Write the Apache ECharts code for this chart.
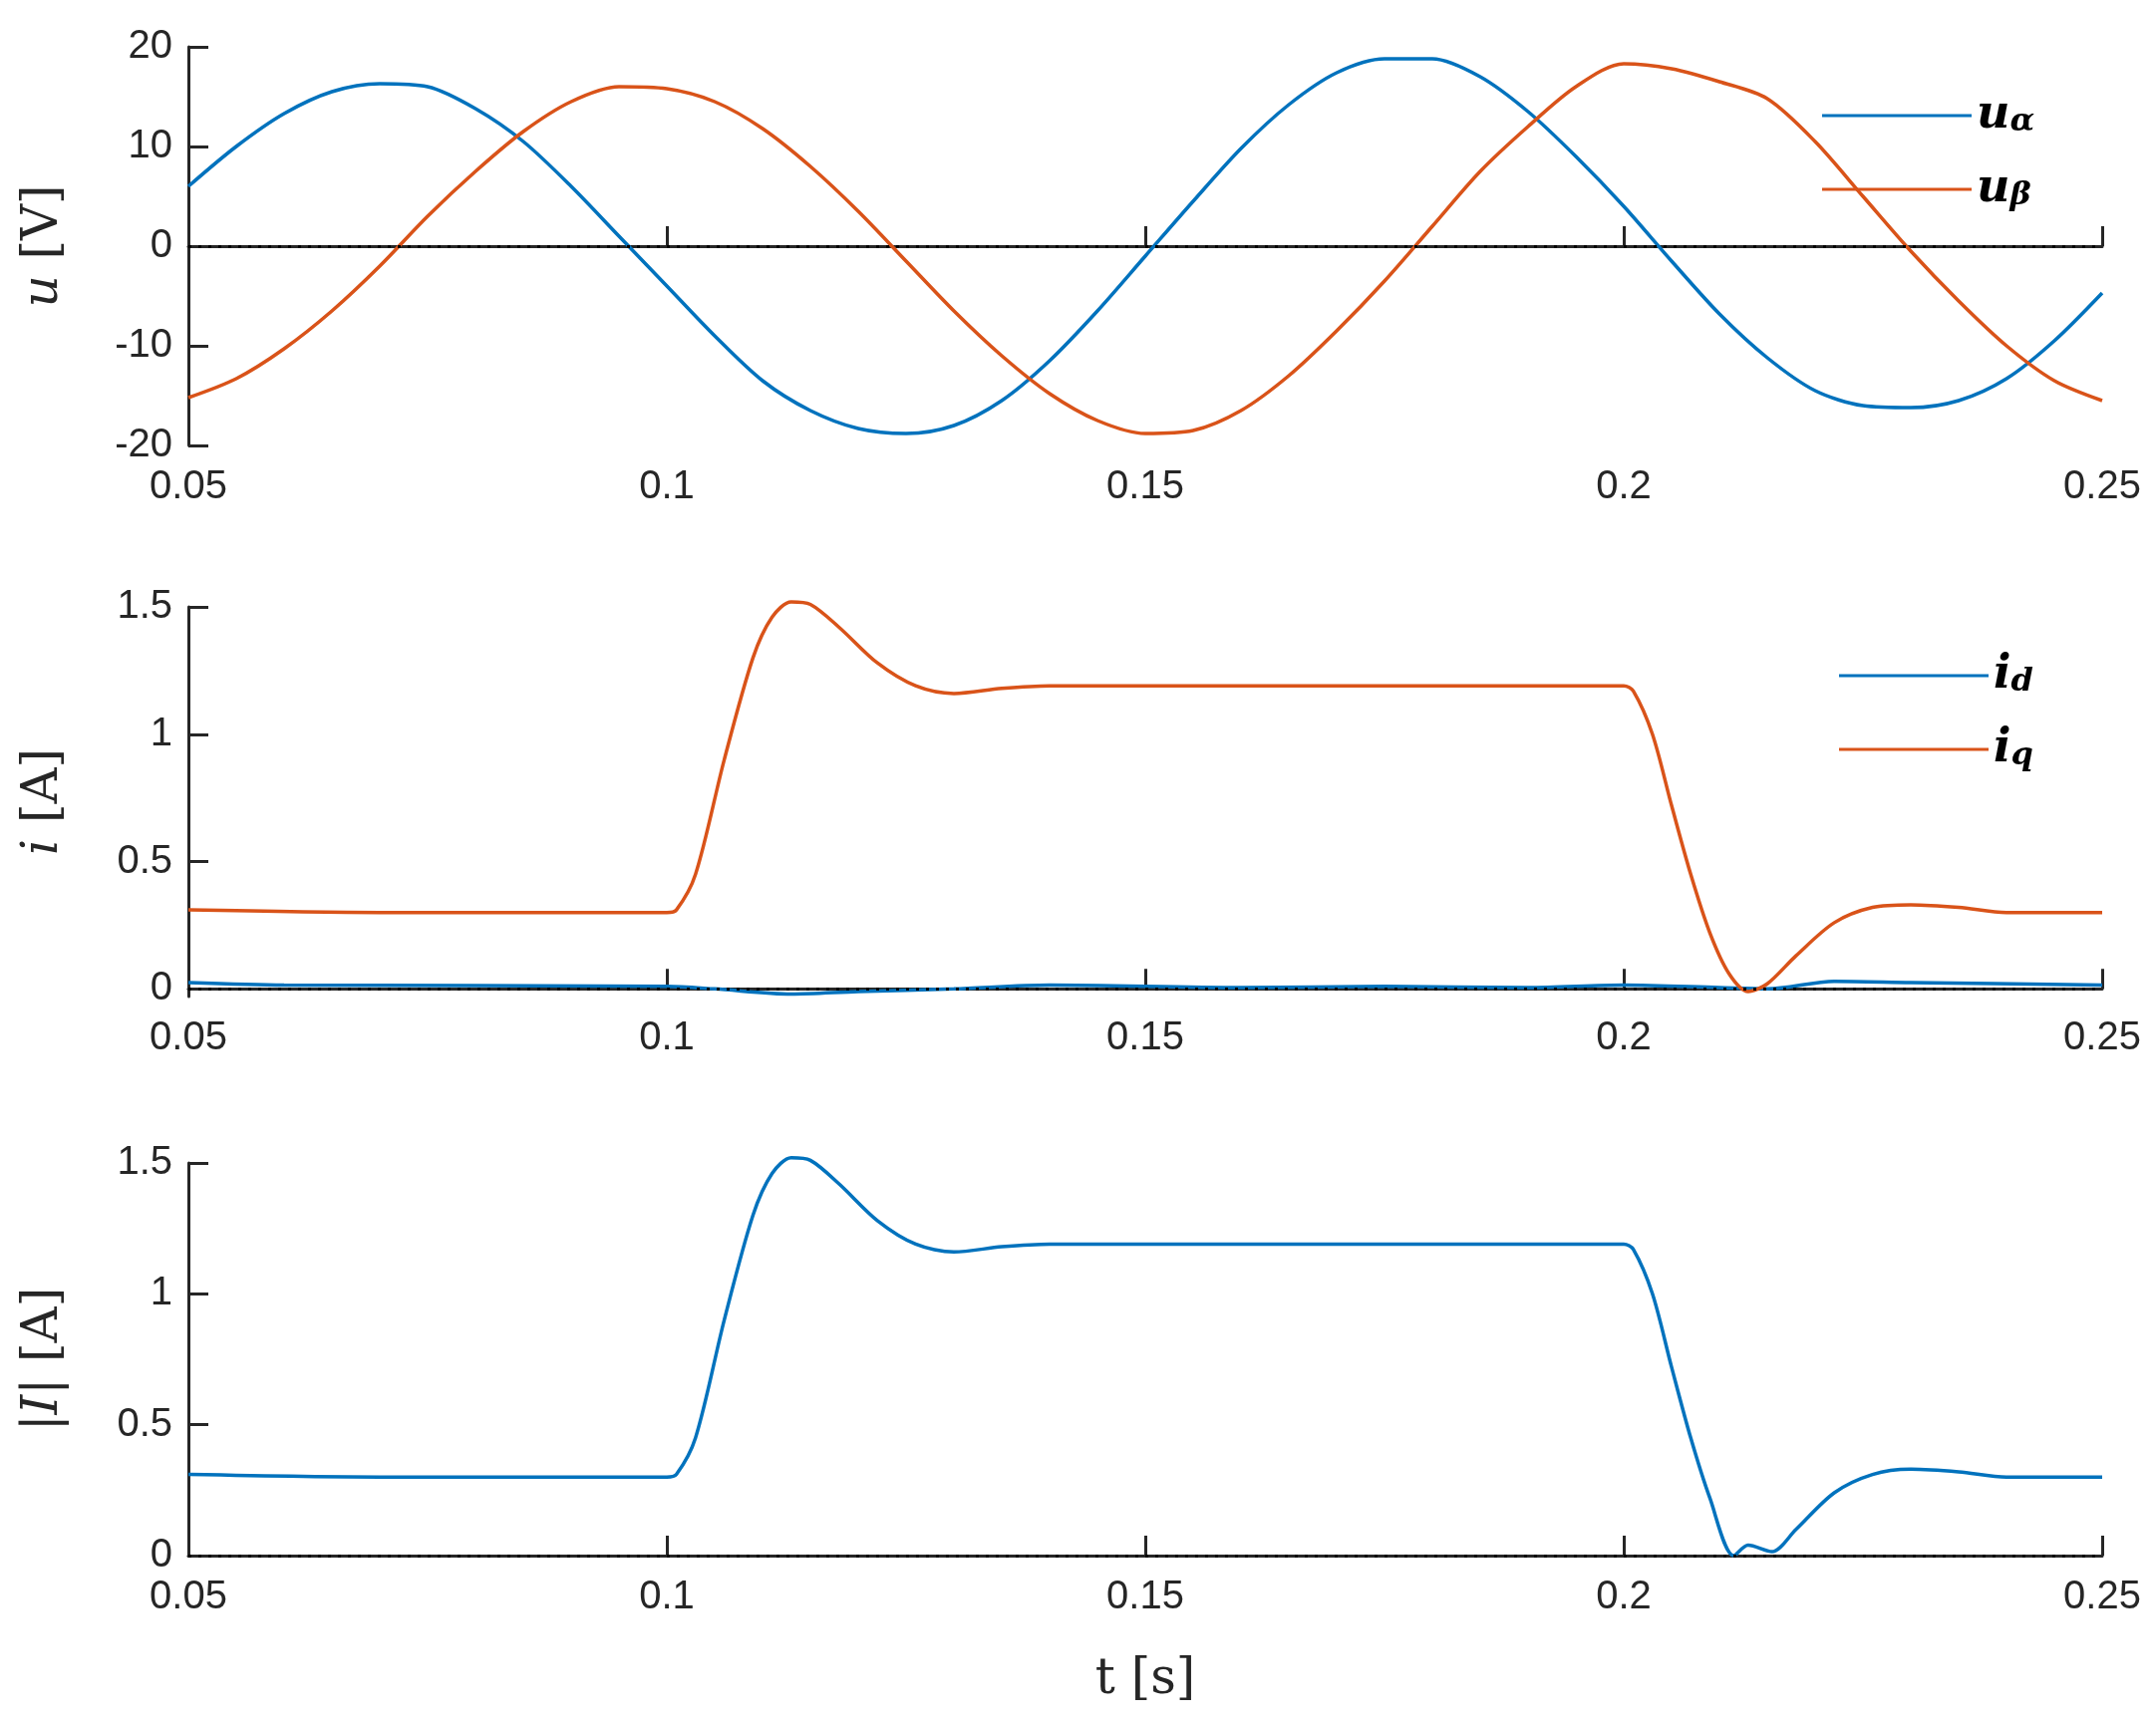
<!DOCTYPE html>
<html><head><meta charset="utf-8">
<script src="https://cdn.jsdelivr.net/npm/echarts@6/dist/echarts.min.js"></script>
<style>html,body{margin:0;background:#fff}#c{width:2163px;height:1732px}</style>
</head><body><div id="c"></div>
<script>
var uT = [0.05,0.055,0.06,0.065,0.07,0.075,0.08,0.085,0.09,0.095,0.1,0.105,0.11,0.115,0.12,0.125,0.13,0.135,0.14,0.145,0.15,0.155,0.16,0.165,0.17,0.175,0.18,0.185,0.19,0.195,0.2,0.205,0.21,0.215,0.22,0.225,0.23,0.235,0.24,0.245,0.25];
var uAlpha = [6,10,13.3,15.5,16.3,16,13.8,10.5,6,1,-4,-9,-13.5,-16.5,-18.3,-18.8,-18,-15.5,-11.5,-6.5,-1,4.5,9.8,14.2,17.4,18.8,18.8,17,13.5,9,4,-1.5,-6.8,-11.2,-14.5,-16,-16.2,-15.5,-13.3,-9.5,-4.7];
var uBeta = [-15.2,-13.3,-10.3,-6.5,-2,3,7.5,11.5,14.5,16,15.8,14.5,11.8,8,3.5,-1.5,-6.5,-11,-14.8,-17.5,-18.8,-18.5,-16.5,-13,-8.5,-3.5,2,7.5,12,16,18.3,17.8,16.5,14.8,10.5,5,-0.5,-5.5,-10,-13.5,-15.5];
var iqT = [0.05,0.07,0.1,0.101,0.103,0.106,0.109,0.111,0.113,0.115,0.118,0.122,0.126,0.13,0.135,0.14,0.2,0.201,0.203,0.205,0.207,0.209,0.211,0.213,0.215,0.218,0.222,0.226,0.23,0.235,0.24,0.25];
var iq = [0.31,0.30,0.30,0.31,0.45,0.9,1.3,1.46,1.52,1.51,1.42,1.28,1.19,1.16,1.18,1.19,1.19,1.17,1.0,0.72,0.45,0.22,0.06,-0.01,0.02,0.13,0.26,0.32,0.33,0.32,0.30,0.30];
var idT = [0.05,0.06,0.1,0.105,0.113,0.12,0.13,0.14,0.16,0.175,0.19,0.2,0.21,0.215,0.222,0.23,0.25];
var id = [0.025,0.015,0.01,0.0,-0.02,-0.01,0.0,0.015,0.005,0.01,0.005,0.015,0.005,0.0,0.03,0.025,0.015];
var magT = [0.05,0.07,0.1,0.101,0.103,0.106,0.109,0.111,0.113,0.115,0.118,0.122,0.126,0.13,0.135,0.14,0.2,0.201,0.203,0.205,0.207,0.209,0.2115,0.213,0.2155,0.218,0.222,0.226,0.23,0.235,0.24,0.25];
var mag = [0.31,0.30,0.30,0.31,0.45,0.9,1.3,1.46,1.52,1.51,1.42,1.28,1.19,1.16,1.18,1.19,1.19,1.17,1.0,0.72,0.45,0.22,0.0,0.04,0.015,0.1,0.24,0.31,0.33,0.32,0.30,0.30];
var xTicks = [0.05, 0.1, 0.15, 0.2, 0.25];
var uTicks = [-20, -10, 0, 10, 20];
var iTicks = [0, 0.5, 1, 1.5];

function pairs(t, v) { return t.map(function (x, i) { return [x, v[i]]; }); }
var blue = '#0072BD', orange = '#D95319';
var tops = [47, 609, 1167], heights = [400, 391, 394];
var ser = '"DejaVu Serif", "Liberation Serif", serif';
var tick = { fontFamily: 'Helvetica, "Liberation Sans", Arial', fontSize: 40, color: '#262626' };
function fmt(v) { return Math.abs(v) < 1e-9 ? '0' : +v.toFixed(2) + ''; }

var grids = tops.map(function (t, i) { return { left: 189, width: 1920, top: t, height: heights[i] }; });
function xa(i) {
    return {
        type: 'value', gridIndex: i, min: 0.05, max: 0.25,
        axisLine: { lineStyle: { color: '#262626', width: 3 } },
        axisTick: { inside: true, length: 20, customValues: xTicks, lineStyle: { color: '#262626', width: 3 } },
        axisLabel: Object.assign({ margin: 22, customValues: xTicks, formatter: fmt }, tick),
        splitLine: { show: false },
        name: i === 2 ? 't [s]' : '', nameLocation: 'middle', nameGap: 100,
        nameTextStyle: { fontFamily: ser, fontSize: 50, color: '#262626' }
    };
}
function ya(i, min, max, ticks, name) {
    return {
        type: 'value', gridIndex: i, min: min, max: max,
        axisLine: { show: true, onZero: false, lineStyle: { color: '#262626', width: 3 } },
        axisTick: { show: true, inside: true, length: 20, customValues: ticks, lineStyle: { color: '#262626', width: 3 } },
        axisLabel: Object.assign({ margin: 16, customValues: ticks, formatter: fmt }, tick),
        splitLine: { show: false },
        name: name, nameLocation: 'middle', nameGap: 120, nameRotate: 90,
        nameTextStyle: { fontFamily: ser, fontSize: 50, color: '#262626',
            rich: { it: { fontFamily: ser, fontStyle: 'italic', fontSize: 50, color: '#262626' } } }
    };
}
var zeroLine = { silent: true, symbol: 'none', label: { show: false },
    lineStyle: { color: '#000', type: [3, 7], width: 3 }, data: [{ yAxis: 0 }] };
function line(name, data, color, xi, mark) {
    var s = { name: name, type: 'line', xAxisIndex: xi, yAxisIndex: xi, data: data, showSymbol: false,
        smooth: 0.3, clip: false, lineStyle: { color: color, width: 3.5 }, itemStyle: { color: color } };
    if (mark) s.markLine = zeroLine;
    return s;
}
var rich = {
    m: { fontFamily: ser, fontStyle: 'italic', fontWeight: 'bold', fontSize: 46, color: '#000' },
    s: { fontFamily: ser, fontStyle: 'italic', fontWeight: 'bold', fontSize: 32, color: '#000', verticalAlign: 'bottom', padding: [14, 0, 0, 0] }
};
function legend(names, top, left) {
    return { data: names, orient: 'vertical', left: left, top: top, itemWidth: 150, itemHeight: 20, itemGap: 28,
        icon: 'path://M0,9 L150,9 L150,12 L0,12 Z',
        formatter: function (n) { var p = n.split('_'); return '{m|' + p[0] + '}{s|' + p[1] + '}'; },
        textStyle: { rich: rich } };
}

var chart = echarts.init(document.getElementById('c'));
chart.setOption({
    animation: false,
    grid: grids,
    xAxis: [xa(0), xa(1), xa(2)],
    yAxis: [ya(0, -20, 20, uTicks, '{it|u} [V]'), ya(1, -0.03, 1.5, iTicks, '{it|i} [A]'), ya(2, 0, 1.5, iTicks, '|{it|I}| [A]')],
    legend: [legend(['u_α', 'u_β'], 88, 1823), legend(['i_d', 'i_q'], 650, 1840)],
    series: [
        line('u_α', pairs(uT, uAlpha), blue, 0, true),
        line('u_β', pairs(uT, uBeta), orange, 0, false),
        line('i_d', pairs(idT, id), blue, 1, true),
        line('i_q', pairs(iqT, iq), orange, 1, false),
        line('|I|', pairs(magT, mag), blue, 2, true)
    ]
});
</script></body></html>
